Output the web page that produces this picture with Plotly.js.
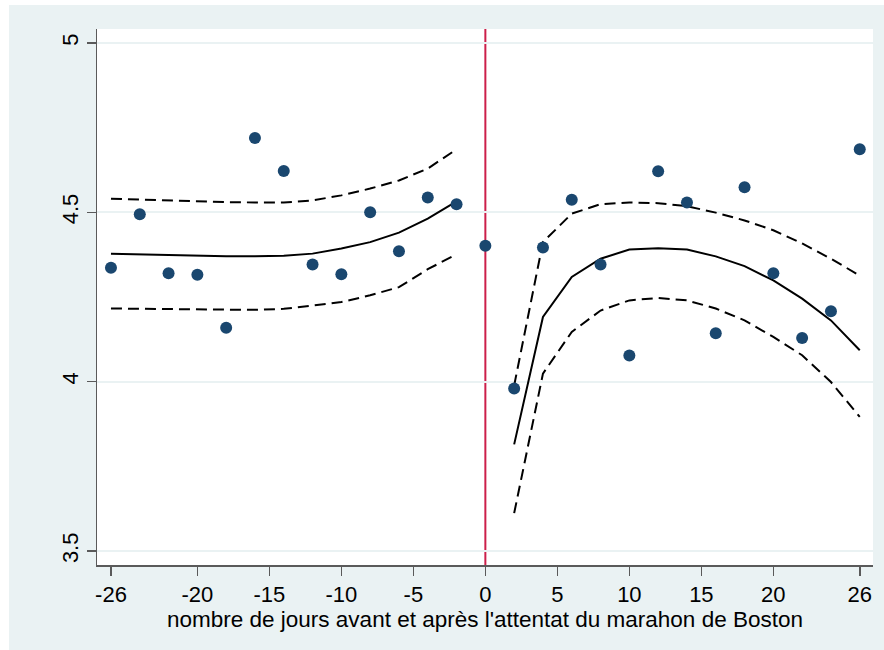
<!DOCTYPE html>
<html>
<head>
<meta charset="utf-8">
<script src="https://cdn.plot.ly/plotly-3.0.1.min.js"></script>
<style>
html,body{margin:0;padding:0;background:#ffffff;}
#chart{position:absolute;left:9px;top:5px;width:875px;height:645px;}
</style>
</head>
<body>
<div id="chart"></div>
<script>
// Scatter points (days relative to the Boston marathon bombing)
const days = [-26,-24,-22,-20,-18,-16,-14,-12,-10,-8,-6,-4,-2,0,2,4,6,8,10,12,14,16,18,20,22,24,26];
const values = [4.336,4.494,4.320,4.316,4.159,4.719,4.622,4.346,4.317,4.500,4.385,4.544,4.524,4.401,3.980,4.396,4.537,4.346,4.077,4.621,4.529,4.143,4.574,4.320,4.129,4.208,4.686];

// Fit before the event
const preX = [-26,-24,-22,-20,-18,-16,-14,-12,-10,-8,-6,-4,-2];
const preFit = [4.378,4.376,4.373,4.372,4.370,4.370,4.372,4.378,4.393,4.412,4.440,4.481,4.532];
const preHi  = [4.540,4.537,4.534,4.531,4.530,4.529,4.529,4.535,4.550,4.570,4.594,4.629,4.686];
const preLo  = [4.216,4.215,4.214,4.212,4.211,4.212,4.215,4.225,4.235,4.255,4.279,4.332,4.376];

// Fit after the event
const postX = [2,4,6,8,10,12,14,16,18,20,22,24,26];
const postFit = [3.815,4.191,4.309,4.363,4.390,4.394,4.390,4.370,4.341,4.299,4.245,4.181,4.093];
const postHi  = [3.989,4.412,4.496,4.524,4.529,4.527,4.518,4.499,4.476,4.447,4.408,4.363,4.313];
const postLo  = [3.612,4.024,4.147,4.210,4.240,4.247,4.240,4.216,4.181,4.132,4.078,3.999,3.896];

const xTicks = [-26,-20,-15,-10,-5,0,5,10,15,20,26];
const yTicks = [3.5,4,4.5,5];
const xTitle = "nombre de jours avant et après l'attentat du marahon de Boston";

const solid = {color:'#000000', width:2};
const dashed = {color:'#000000', width:2, dash:'11px,6px'};

const traces = [
  {x:preX, y:preHi, mode:'lines', line:dashed, hoverinfo:'skip'},
  {x:preX, y:preLo, mode:'lines', line:dashed, hoverinfo:'skip'},
  {x:preX, y:preFit, mode:'lines', line:solid},
  {x:postX, y:postHi, mode:'lines', line:dashed, hoverinfo:'skip'},
  {x:postX, y:postLo, mode:'lines', line:dashed, hoverinfo:'skip'},
  {x:postX, y:postFit, mode:'lines', line:solid},
  {x:days, y:values, mode:'markers', marker:{color:'#1A476F', size:12}}
];

const layout = {
  width:875, height:645,
  paper_bgcolor:'#EAF2F3',
  plot_bgcolor:'#FFFFFF',
  showlegend:false,
  margin:{l:88, r:11, t:24, b:85},
  font:{family:'"Liberation Sans", Arial, sans-serif', color:'#000000', size:22},
  xaxis:{
    range:[-26.97, 26.92],
    tickmode:'array', tickvals:xTicks, ticktext:xTicks.map(String),
    showgrid:false, zeroline:false,
    showline:true, linecolor:'#5A5A5A', linewidth:1.5,
    ticks:'outside', ticklen:9, tickwidth:1.5, tickcolor:'#5A5A5A',
    tickfont:{size:22},
    title:{text:xTitle, font:{size:22.5}, standoff:0}
  },
  yaxis:{
    range:[3.459, 5.041],
    tickmode:'array', tickvals:yTicks, ticktext:yTicks.map(String),
    showgrid:true, gridcolor:'#EAF2F3', gridwidth:2,
    zeroline:false,
    showline:true, linecolor:'#5A5A5A', linewidth:1.5,
    ticks:'outside', ticklen:9, tickwidth:1.5, tickcolor:'#5A5A5A',
    tickangle:-90,
    tickfont:{size:22}
  },
  shapes:[
    {type:'line', xref:'x', yref:'paper', x0:0, x1:0, y0:0, y1:1,
     line:{color:'#CC1F4A', width:2}, layer:'below'}
  ]
};

Plotly.newPlot('chart', traces, layout, {staticPlot:true, displayModeBar:false});
</script>
</body>
</html>
